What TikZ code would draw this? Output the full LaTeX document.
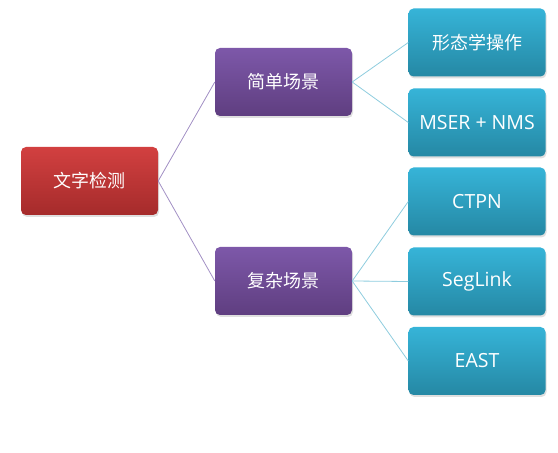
\documentclass[tikz,border=0pt]{standalone}
\usepackage{fontspec}
\setmainfont{Open Sans}
\newfontfamily\cjk{Noto Sans CJK SC}
\usetikzlibrary{shadows}
\definecolor{rootTop}{HTML}{D24040}
\definecolor{rootBot}{HTML}{A52B2B}
\definecolor{midTop}{HTML}{7D58A9}
\definecolor{midBot}{HTML}{5F3E80}
\definecolor{leafTop}{HTML}{36B4D8}
\definecolor{leafBot}{HTML}{2588A4}
\definecolor{midLine}{HTML}{A290C4}
\definecolor{leafLine}{HTML}{8ECCDE}

\begin{document}
\begin{tikzpicture}[x=1pt,y=1pt,
  box/.style={rectangle, rounded corners=5pt, minimum width=137pt, minimum height=68pt,
    inner sep=0pt, text=white, font=\fontsize{18}{21}\selectfont,
    drop shadow={shadow xshift=1pt, shadow yshift=-2pt, opacity=0.25}},
  rootbox/.style={box, top color=rootTop, bottom color=rootBot},
  midbox/.style={box, top color=midTop, bottom color=midBot},
  leafbox/.style={box, top color=leafTop, bottom color=leafBot},
  latin/.style={font=\fontsize{19.5}{22}\selectfont}]
\useasboundingbox (0,0) rectangle (558,453);
% tree
\node[rootbox] (det) at (89.5,272) {\cjk 文字检测};
\node[midbox] (easy) at (283.5,371) {\cjk 简单场景};
\node[midbox] (hard) at (283.5,172) {\cjk 复杂场景};
\node[leafbox] (morph) at (477,410.5) {\cjk 形态学操作};
\node[leafbox,latin] (mser) at (477,330.5) {MSER + NMS};
\node[leafbox,latin] (ctpn) at (477,251.5) {CTPN};
\node[leafbox,latin] (seg) at (477,171.5) {SegLink};
\node[leafbox,latin] (east) at (477,92) {EAST};
\draw [-,midLine,line width=0.8pt] (det.east) -- (easy.west);
\draw [-,midLine,line width=0.8pt] (det.east) -- (hard.west);
\draw [-,leafLine,line width=0.8pt] (easy.east) -- (morph.west);
\draw [-,leafLine,line width=0.8pt] (easy.east) -- (mser.west);
\draw [-,leafLine,line width=0.8pt] (hard.east) -- (ctpn.west);
\draw [-,leafLine,line width=0.8pt] (hard.east) -- (seg.west);
\draw [-,leafLine,line width=0.8pt] (hard.east) -- (east.west);
\end{tikzpicture}
\end{document}
